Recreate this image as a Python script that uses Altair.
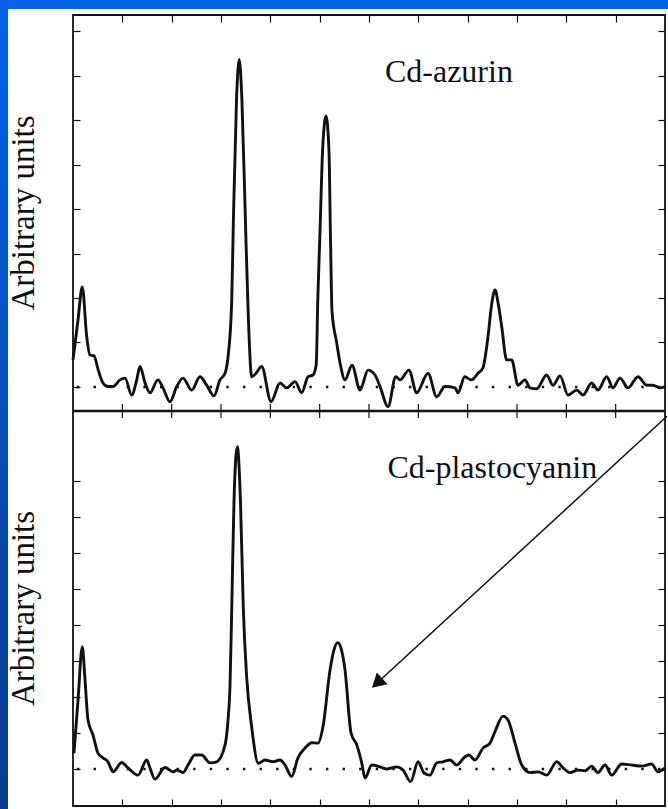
import altair as alt
import pandas as pd

# ---------------------------------------------------------------------------
# Traces (x in channel units 0-600, y in tick units above each dotted baseline)
# ---------------------------------------------------------------------------
azurin_x = [0, 5.1, 9.4, 13.9, 17.2, 21.3, 25.6, 30.4, 35.5, 40.5,
            47.6, 52.7, 59.5, 64.6, 67.9, 73.0, 78.0, 86.1, 91.2, 98.3,
            105.1, 111.5, 120.3, 128.7, 135.5, 142.9, 149.0, 154.1, 157.1, 160.8,
            162.5, 165.7, 168.5, 171.2, 174.8, 177.8, 181.1, 185.5, 191.2, 200.7,
            209.8, 216.6, 225.0, 231.8, 238.2, 243.2, 246.5, 248.1, 250.3, 253.0,
            256.4, 259.4, 260.9, 262.5, 267.2, 271.0, 275.7, 282.8, 290.9, 299.0,
            306.1, 311.2, 319.3, 327.1, 331.4, 340.5, 348.3, 359.8, 368.6, 377.0,
            387.2, 390.2, 397.0, 403.8, 410.5, 415.5, 420.6, 424.2, 427.7, 431.2,
            434.5, 439.5, 444.6, 451.0, 458.1, 463.2, 469.9, 480.1, 486.5, 493.6,
            501.7, 510.5, 516.9, 525.7, 532.1, 540.9, 547.3, 554.4, 562.5, 572.7,
            581.5, 587.8, 594.9, 600]
azurin_y = [0.61, 1.51, 2.25, 1.13, 0.72, 0.70, 0.38, 0.09, 0.01, 0.01,
            0.16, 0.20, -0.18, 0.16, 0.46, 0.09, -0.13, 0.16, -0.02, -0.33,
            0.01, 0.20, -0.07, 0.23, 0.04, -0.20, 0.16, 0.31, 0.67, 1.89,
            3.69, 6.45, 7.36, 6.45, 3.69, 1.51, 0.23, 0.31, 0.46, -0.33,
            0.09, -0.02, 0.12, -0.13, 0.23, 0.27, 0.50, 1.96, 3.46, 5.33,
            6.09, 5.33, 3.46, 1.70, 1.00, 0.50, 0.16, 0.49, -0.07, 0.38,
            0.27, 0.01, -0.44, 0.23, 0.16, 0.38, -0.13, 0.31, -0.22, 0.01,
            -0.02, -0.13, 0.23, 0.16, 0.31, 0.43, 1.13, 1.84, 2.18, 1.84,
            1.36, 0.61, 0.61, 0.04, 0.16, -0.02, -0.04, 0.27, 0.04, 0.25,
            -0.18, -0.07, -0.18, 0.09, -0.07, 0.23, -0.02, 0.20, -0.02, 0.23,
            0.04, 0.04, -0.02, 0.01]

plasto_x = [1.0, 5.1, 9.4, 12.2, 15.2, 20.3, 25.3, 30.4, 35.5, 40.5,
            49.4, 55.7, 65.9, 74.7, 78.0, 83.1, 93.2, 101.4, 105.1, 111.5,
            116.6, 123.6, 130.4, 138.8, 145.6, 154.1, 157.1, 159.1, 160.9, 163.2,
            166.5, 169.7, 172.6, 176.0, 181.1, 187.8, 194.6, 202.7, 209.8, 214.9,
            221.7, 228.0, 235.1, 241.9, 248.3, 253.4, 260.5, 264.5, 268.3, 272.1,
            275.7, 281.8, 287.6, 292.6, 296.0, 302.8, 311.2, 318.0, 328.1, 334.5,
            342.3, 349.7, 355.8, 361.8, 368.6, 375.0, 382.1, 388.9, 397.3, 401.3,
            407.4, 415.5, 422.6, 427.7, 435.8, 440.9, 448.0, 454.8, 463.2, 471.3,
            480.1, 490.3, 496.6, 503.7, 511.8, 518.9, 525.7, 532.1, 539.2, 546.0,
            556.1, 566.3, 576.4, 586.5, 592.9, 600]
plasto_y = [0.44, 1.92, 3.40, 2.47, 1.36, 0.94, 0.44, 0.31, 0.20, -0.08,
            0.18, 0.03, -0.17, 0.25, 0.03, -0.28, 0.04, -0.08, -0.03, -0.10,
            0.11, 0.39, 0.39, 0.17, 0.20, 0.67, 1.36, 2.29, 4.47, 7.47,
            8.95, 7.47, 4.47, 2.56, 1.17, 0.16, 0.25, 0.20, 0.25, 0.11,
            -0.21, 0.31, 0.58, 0.73, 0.72, 1.18, 2.75, 3.31, 3.51, 3.31,
            2.75, 1.00, 0.67, 0.17, -0.25, 0.11, 0.06, 0.00, 0.06, -0.03,
            -0.35, 0.20, -0.11, -0.17, 0.17, 0.20, 0.25, 0.11, 0.34, 0.39,
            0.25, 0.58, 0.72, 1.04, 1.47, 1.36, 0.72, 0.11, -0.10, -0.08,
            -0.17, 0.20, 0.03, -0.10, -0.03, -0.05, 0.08, -0.10, 0.11, -0.17,
            0.14, 0.11, 0.08, 0.14, -0.08, 0.03]

# Axis ticks
x_ticks = [50, 100, 150, 200, 250, 300, 350, 400, 450, 500, 550]
y_ticks = [0, 1, 2, 3, 4, 5, 6, 7, 8]

# Panel labels and the arrow in the lower panel (panel units)
panel_names = ["Cd-azurin", "Cd-plastocyanin"]
name_x = [381, 425]
name_y = [6.85, 8.08]
axis_title = "Arbitrary units"
arrow_x = [602, 308.2]
arrow_y = [9.8, 2.39]

# ---------------------------------------------------------------------------
# Layout: one plotting area holding both stacked panels
# ---------------------------------------------------------------------------
W, H = 592, 791
DIVIDER = 395                      # boundary between the two panels
TOP_BASE, TOP_UNIT = 419, 44.5     # upper panel: baseline and size of one tick step
BOT_BASE, BOT_UNIT = 37, 36        # lower panel
FONT = "Liberation Serif"
INK = "#111111"
BLUE_TOP = "#0563E8"
BLUE_BOT = "#0A3A8C"

xsc = alt.Scale(domain=[0, 600], nice=False, zero=False)
ysc = alt.Scale(domain=[0, H], nice=False, zero=False)
y_tick_pos = ([TOP_BASE + TOP_UNIT * k for k in y_ticks]
              + [BOT_BASE + BOT_UNIT * k for k in y_ticks])


def tick_axis(orient, values):
    # ticks drawn on the inside of the frame
    return alt.Axis(orient=orient, values=values, labels=False, domain=False, grid=False,
                    ticks=True, tickSize=7, tickWidth=1.2, tickColor=INK, offset=-7,
                    title=None, zindex=2)


one = pd.DataFrame({"k": [0]})

# slide frame: blue band at the top, shaded band down the left edge
band_grad = alt.LinearGradient(
    gradient="linear", x1=0, x2=0, y1=0, y2=1,
    stops=[alt.GradientStop(color=BLUE_TOP, offset=0),
           alt.GradientStop(color=BLUE_BOT, offset=1)])
left_band = alt.Chart(one).mark_rect(fill=band_grad, strokeWidth=0).encode(
    x=alt.value(-73), x2=alt.value(-65), y=alt.value(-15), y2=alt.value(H + 3))
top_band = alt.Chart(one).mark_rect(fill=BLUE_TOP, strokeWidth=0).encode(
    x=alt.value(-73), x2=alt.value(W + 3), y=alt.value(-15), y2=alt.value(-6))

# dotted baselines (also carry the top and right tick axes)
base_df = pd.DataFrame({"x0": [4, 4], "x1": [597, 597], "pos": [TOP_BASE, BOT_BASE]})
baselines = alt.Chart(base_df).mark_rule(
    color=INK, strokeWidth=2.4, strokeDash=[2.4, 14.2]).encode(
    x=alt.X("x0:Q", scale=xsc, axis=tick_axis("top", x_ticks)),
    x2="x1:Q",
    y=alt.Y("pos:Q", scale=ysc, axis=tick_axis("right", y_tick_pos)))

# panel divider with its ticks on both sides
divider = alt.Chart(one).mark_rule(color=INK, strokeWidth=2.6).encode(
    x=alt.value(0), x2=alt.value(W),
    y=alt.YDatum(DIVIDER, scale=ysc, axis=None))
div_ticks = alt.Chart(pd.DataFrame({"x": x_ticks})).mark_rule(
    color=INK, strokeWidth=1.2).encode(
    x=alt.X("x:Q", scale=xsc, axis=None),
    y=alt.YDatum(DIVIDER - 7, scale=ysc, axis=None),
    y2=alt.Y2Datum(DIVIDER + 7))


def trace(xs, ys, base, unit, with_axes):
    df = pd.DataFrame({"x": xs, "y": ys})
    return alt.Chart(df).transform_calculate(
        pos=f"{base} + {unit} * datum.y").mark_line(
        color=INK, strokeWidth=2.9, interpolate="monotone").encode(
        x=alt.X("x:Q", scale=xsc, axis=tick_axis("bottom", x_ticks) if with_axes else None),
        y=alt.Y("pos:Q", scale=ysc, axis=tick_axis("left", y_tick_pos) if with_axes else None))


azurin = trace(azurin_x, azurin_y, TOP_BASE, TOP_UNIT, True)
plasto = trace(plasto_x, plasto_y, BOT_BASE, BOT_UNIT, False)

names_df = pd.DataFrame({
    "t": panel_names, "x": name_x,
    "pos": [TOP_BASE + TOP_UNIT * name_y[0], BOT_BASE + BOT_UNIT * name_y[1]]})
names = alt.Chart(names_df).mark_text(
    font=FONT, fontSize=32, color=INK, align="center", baseline="alphabetic").encode(
    x=alt.X("x:Q", scale=xsc, axis=None),
    y=alt.Y("pos:Q", scale=ysc, axis=None),
    text="t:N")

titles_df = pd.DataFrame({"t": [axis_title, axis_title],
                          "pos": [(H + DIVIDER) / 2, DIVIDER / 2]})
titles = alt.Chart(titles_df).mark_text(
    font=FONT, fontSize=33, color=INK, angle=270, align="center",
    baseline="alphabetic").encode(
    x=alt.value(-39),
    y=alt.Y("pos:Q", scale=ysc, axis=None),
    text="t:N")

arrow_df = pd.DataFrame({"x0": [arrow_x[0]], "x1": [arrow_x[1]],
                         "p0": [BOT_BASE + BOT_UNIT * arrow_y[0]],
                         "p1": [BOT_BASE + BOT_UNIT * arrow_y[1]]})
shaft = alt.Chart(arrow_df).mark_rule(color=INK, strokeWidth=1.5).encode(
    x=alt.X("x0:Q", scale=xsc, axis=None), x2="x1:Q",
    y=alt.Y("p0:Q", scale=ysc, axis=None), y2="p1:Q")
head = alt.Chart(arrow_df).mark_point(
    shape="triangle-up", filled=True, size=256, angle=227.4, color=INK, opacity=1).encode(
    x=alt.X("x1:Q", scale=xsc, axis=None),
    y=alt.Y("p1:Q", scale=ysc, axis=None))

chart = alt.layer(
    left_band, top_band, baselines, divider, div_ticks, azurin, plasto,
    names, titles, shaft, head
).resolve_axis(x="independent", y="independent").properties(
    width=W, height=H,
    autosize=alt.AutoSizeParams(type="none"),
    padding={"left": 73, "top": 15, "right": 3, "bottom": 3},
).configure(background="white").configure_view(stroke=INK, strokeWidth=1.8)

chart.save("out.html", embed_options={"renderer": "svg", "actions": False})
